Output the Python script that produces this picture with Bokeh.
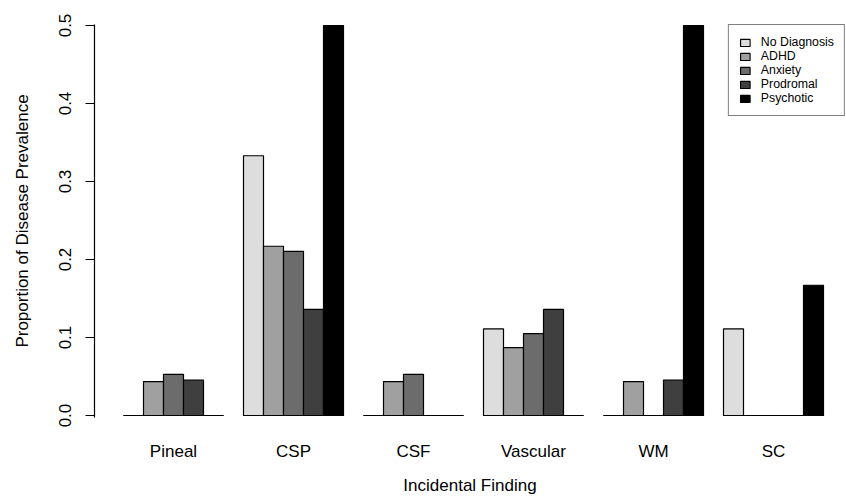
from bokeh.plotting import figure
from bokeh.models import Range1d, FixedTicker, ColumnDataSource
from bokeh.embed import file_html
from bokeh.resources import INLINE

findings = ["Pineal", "CSP", "CSF", "Vascular", "WM", "SC"]
diagnoses = ["No Diagnosis", "ADHD", "Anxiety", "Prodromal", "Psychotic"]
no_diagnosis = [0.0, 0.333, 0.0, 0.111, 0.0, 0.111]
adhd = [0.0435, 0.217, 0.0435, 0.087, 0.0435, 0.0]
anxiety = [0.0526, 0.2105, 0.0526, 0.105, 0.0, 0.0]
prodromal = [0.0455, 0.136, 0.0, 0.136, 0.0455, 0.0]
psychotic = [0.0, 0.5, 0.0, 0.0, 0.5, 0.167]
series = [no_diagnosis, adhd, anxiety, prodromal, psychotic]
colors = ["#dddddd", "#a0a0a0", "#6c6c6c", "#3f3f3f", "#000000"]
y_ticks = [0.0, 0.1, 0.2, 0.3, 0.4, 0.5]

FONT = "Liberation Sans"

p = figure(width=845, height=500, output_backend="svg", toolbar_location=None,
           x_range=Range1d(-0.45, 37.1), y_range=Range1d(-0.00256, 0.50128),
           min_border_left=94, min_border_right=0, min_border_top=24, min_border_bottom=83)
p.outline_line_color = None
p.xgrid.visible = False
p.ygrid.visible = False
p.background_fill_color = "white"

ngroups = len(findings)
nser = len(diagnoses)
centers = [1 + g * (nser + 1) + nser / 2.0 for g in range(ngroups)]

for i, (name, vals, col) in enumerate(zip(diagnoses, series, colors)):
    xs = [1 + g * (nser + 1) + i + 0.5 for g in range(ngroups)]
    src = ColumnDataSource(dict(x=xs, top=vals, x0=[x - 0.5 for x in xs], x1=[x + 0.5 for x in xs], y=[0.0] * ngroups))
    p.segment(x0="x0", y0="y", x1="x1", y1="y", source=src, line_color="black", line_width=1.2)
    p.vbar(x="x", top="top", bottom=0, width=1.0, source=src, fill_color=col,
           line_color="black", line_width=1.2, legend_label=name)

# x axis
xa = p.xaxis[0]
xa.ticker = FixedTicker(ticks=centers)
xa.major_label_overrides = {c: f for c, f in zip(centers, findings)}
xa.axis_line_color = None
xa.major_tick_line_color = None
xa.major_tick_out = 0
xa.major_tick_in = 0
xa.minor_tick_line_color = None
xa.major_label_standoff = 24
xa.major_label_text_font = FONT
xa.major_label_text_font_size = "17px"
xa.major_label_text_color = "black"
xa.axis_label = "Incidental Finding"
xa.axis_label_text_font = FONT
xa.axis_label_text_font_size = "17px"
xa.axis_label_text_font_style = "normal"
xa.axis_label_text_color = "black"
xa.axis_label_standoff = 12

# y axis
ya = p.yaxis[0]
ya.ticker = FixedTicker(ticks=y_ticks)
ya.major_label_overrides = {t: f"{t:.1f}" for t in y_ticks}
ya.major_label_orientation = "vertical"
ya.major_tick_out = 9
ya.major_tick_in = 0
ya.minor_tick_line_color = None
ya.axis_line_color = "black"
ya.axis_line_width = 1.2
ya.major_tick_line_width = 1.2
ya.major_label_standoff = 14
ya.major_label_text_font = FONT
ya.major_label_text_font_size = "17px"
ya.major_label_text_color = "black"
ya.axis_label = "Proportion of Disease Prevalence"
ya.axis_label_text_font = FONT
ya.axis_label_text_font_size = "17px"
ya.axis_label_text_font_style = "normal"
ya.axis_label_text_color = "black"
ya.axis_label_standoff = 25

lg = p.legend[0]
lg.location = "top_right"
lg.margin = 0
lg.padding = 10
lg.spacing = 0
lg.label_height = 13
lg.glyph_height = 9
lg.glyph_width = 12
lg.label_standoff = 10
lg.label_text_font = FONT
lg.label_text_font_size = "12.3px"
lg.label_text_color = "black"
lg.label_text_baseline = "middle"
lg.border_line_color = "black"
lg.border_line_width = 1
lg.background_fill_alpha = 1.0

open("out.html", "w").write(file_html(p, INLINE))
